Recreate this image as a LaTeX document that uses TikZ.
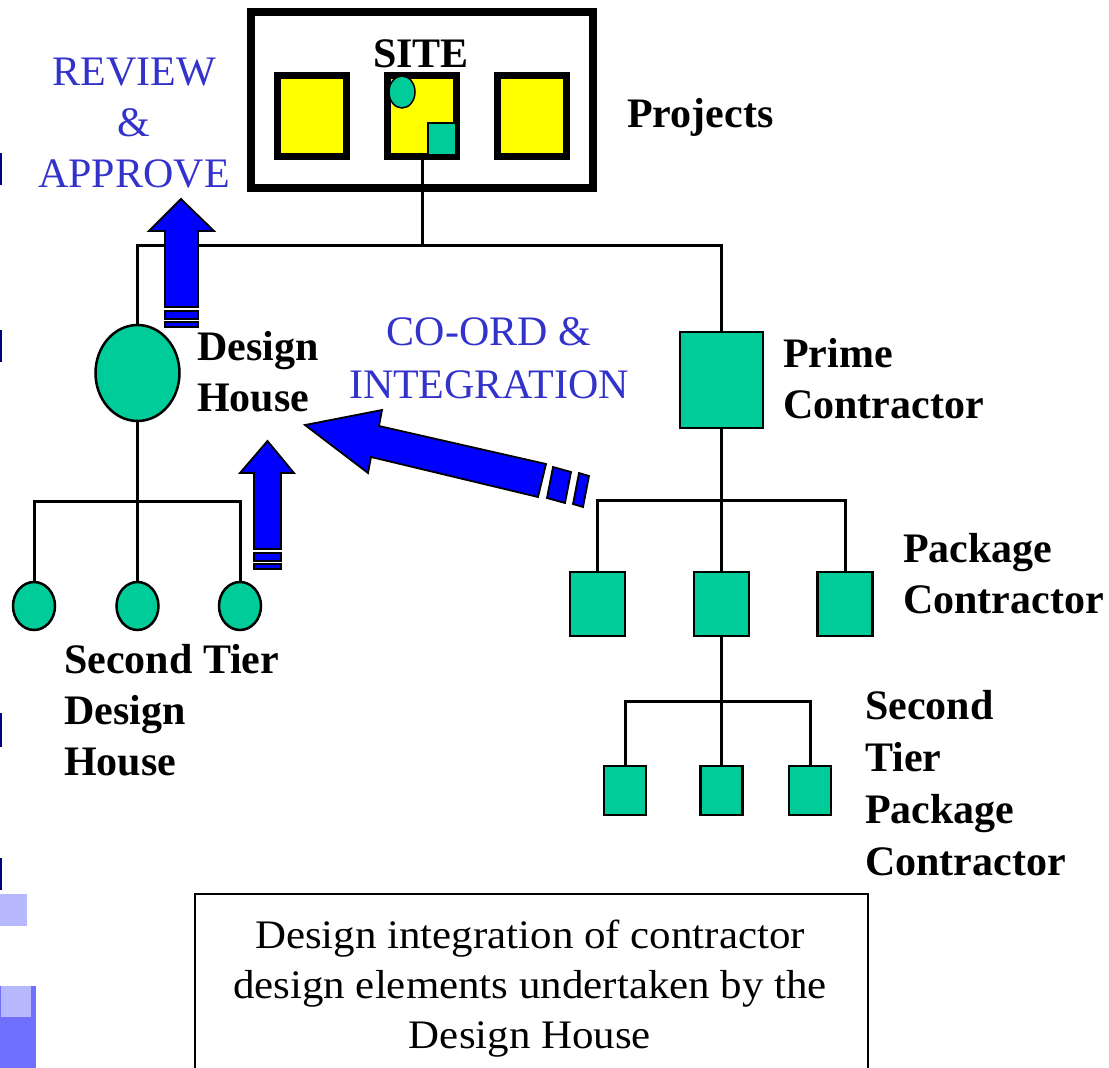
\documentclass[tikz,border=0pt]{standalone}
\usepackage{fontspec}
\setmainfont{Liberation Serif}
\newfontfamily\captionfnt[FakeStretch=1.06]{Liberation Serif}
\usetikzlibrary{shapes.geometric}
\definecolor{tealg}{RGB}{0,204,153}
\definecolor{ylw}{RGB}{255,255,0}
\definecolor{txtblue}{RGB}{51,51,204}
\definecolor{arrblue}{RGB}{0,0,255}
\definecolor{navybar}{RGB}{0,0,128}
\definecolor{lightsq}{RGB}{184,184,255}
\definecolor{midsq}{RGB}{112,112,255}
\begin{document}
\begin{tikzpicture}[x=1pt,y=-1pt,
  lbl/.style={font=\fontsize{42}{51}\selectfont\bfseries, inner sep=0pt, align=left, anchor=base west},
  bluelbl/.style={font=\fontsize{42}{51}\selectfont, text=txtblue, inner sep=0pt, align=center, anchor=base},
  ybox/.style={draw, line width=7pt, fill=ylw, minimum width=69pt, minimum height=81pt, inner sep=0pt},
  tealsq/.style={draw, line width=2.5pt, fill=tealg, inner sep=0pt},
  tealel/.style={draw, ellipse, line width=2.5pt, fill=tealg, inner sep=0pt},
  tree/.style={line width=3pt},
  barrow/.style={draw, line width=1.8pt, fill=arrblue, line join=miter}
]
\useasboundingbox (0,0) rectangle (1109,1068);

% left edge decorations
\fill[navybar] (0,153) rectangle (2,185);
\fill[navybar] (0,330) rectangle (2,362);
\fill[navybar] (0,713) rectangle (2,747);
\fill[navybar] (0,858) rectangle (2,890);
\fill[lightsq] (0,894) rectangle (27,926);
\fill[midsq] (0,986) rectangle (36,1068);
\fill[lightsq] (1,986) rectangle (31,1017);

% site
\node[draw, line width=8pt, minimum width=342pt, minimum height=176pt, inner sep=0pt] (site) at (422,100) {};
\node[ybox] (yl) at (312,116) {};
\node[ybox] (ym) at (422,116) {};
\node[ybox] (yr) at (531.5,116) {};
\node[draw, ellipse, line width=1.5pt, fill=tealg, minimum width=26pt, minimum height=32pt, inner sep=0pt] (sel) at (402,92) {};
\node[draw, line width=1.5pt, fill=tealg, minimum width=28pt, minimum height=32pt, inner sep=0pt] (ssq) at (442,139) {};
\node[font=\fontsize{42}{51}\selectfont\bfseries, inner sep=0pt, anchor=base] (sitelbl) at (421,67) {SITE};
\node[lbl] (projects) at (627,127) {Projects};

% main nodes
\node[tealel, minimum width=84pt, minimum height=96pt] (dh) at (137.5,373) {};
\node[tealsq, minimum width=83pt, minimum height=96pt] (pc) at (721.5,380) {};

\node[tealel, minimum width=42pt, minimum height=48pt] (d1) at (34,606) {};
\node[tealel, minimum width=42pt, minimum height=48pt] (d2) at (137.5,606) {};
\node[tealel, minimum width=42pt, minimum height=48pt] (d3) at (240,606) {};

\node[tealsq, minimum width=55pt, minimum height=64pt] (p1) at (597.5,604) {};
\node[tealsq, minimum width=55pt, minimum height=64pt] (p2) at (721.5,604) {};
\node[tealsq, minimum width=55pt, minimum height=64pt] (p3) at (845,604) {};

\node[tealsq, minimum width=42pt, minimum height=49pt] (s1) at (625,790.5) {};
\node[tealsq, minimum width=42pt, minimum height=49pt] (s2) at (721.5,790.5) {};
\node[tealsq, minimum width=42pt, minimum height=49pt] (s3) at (810,790.5) {};

% tree connectors
\coordinate (j1) at (422,245);
\coordinate (j2) at (137.5,501);
\coordinate (j3) at (721.5,500);
\coordinate (j4) at (721.5,701);
\draw[tree] (ym.south) -- (j1);
\draw[tree] (dh.north) |- (j1) -| (pc.north);
\draw[tree] (dh.south) -- (j2);
\draw[tree] (d1.north) |- (j2) -| (d3.north);
\draw[tree] (d2.north) -- (j2);
\draw[tree] (pc.south) -- (j3);
\draw[tree] (p1.north) |- (j3) -| (p3.north);
\draw[tree] (p2.north) -- (j3);
\draw[tree] (p2.south) -- (j4);
\draw[tree] (s1.north) |- (j4) -| (s3.north);
\draw[tree] (s2.north) -- (j4);

% labels (anchor = baseline of last line)
\node[lbl] (dhlbl) at (197,411) {Design\\House};
\node[lbl] (pclbl) at (783,418) {Prime\\Contractor};
\node[lbl] (pklbl) at (903,613) {Package\\Contractor};
\node[lbl] (stdlbl) at (64,775) {Second Tier\\Design\\House};
\node[lbl, font=\fontsize{42}{52}\selectfont\bfseries] (stplbl) at (865,875) {Second\\Tier\\Package\\Contractor};
\node[bluelbl] (review) at (134,187) {REVIEW\\\&\\APPROVE};
\node[bluelbl, font=\fontsize{42}{53}\selectfont] (coord) at (489,398) {CO-ORD \&\\INTEGRATION};

% blue block arrows
\path[barrow] (181,199) -- (214,231) -- (198,231) -- (198,307) -- (165,307) -- (165,231) -- (149,231) -- cycle;
\path[barrow] (165,311) rectangle (198,319);
\path[barrow] (165,322) rectangle (198,327);

\path[barrow] (267.5,441) -- (294,473) -- (281,473) -- (281,549) -- (254,549) -- (254,473) -- (240,473) -- cycle;
\path[barrow] (254,553) rectangle (281,561);
\path[barrow] (254,564) rectangle (281,569);

\path[barrow] (305,425) -- (382,410) -- (379,426) -- (546,464) -- (538,497) -- (371,457) -- (368,473) -- cycle;
\path[barrow] (553,467) -- (571,472) -- (565,503) -- (547,498) -- cycle;
\path[barrow] (579,473) -- (589,476) -- (583,507) -- (573,504) -- cycle;

% caption box
\draw[line width=2pt] (195,1075) -- (195,894) -- (868,894) -- (868,1075);
\node[font=\captionfnt\fontsize{40.5}{50}\selectfont, inner sep=0pt, align=center, anchor=base] (caption) at (530,1048) {Design integration of contractor\\design elements undertaken by the\\Design House};
\end{tikzpicture}
\end{document}
